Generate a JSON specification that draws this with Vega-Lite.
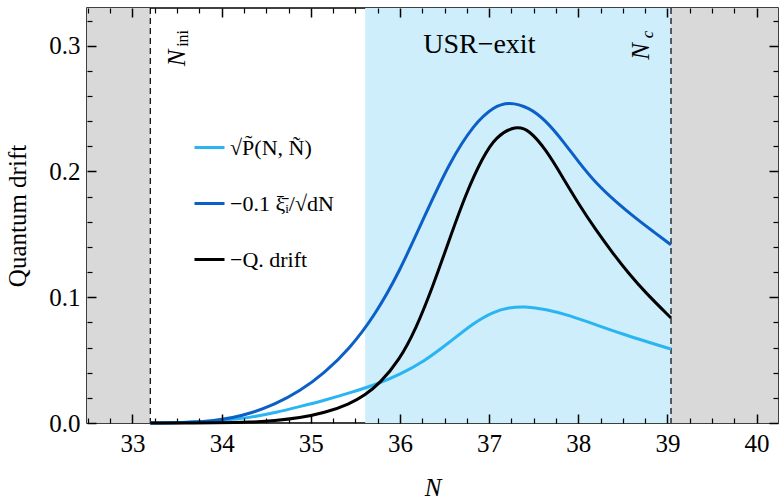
{
  "$schema": "https://vega.github.io/schema/vega-lite/v6.json",
  "width": 691,
  "height": 415,
  "autosize": {"type": "none"},
  "padding": {"left": 87, "top": 8, "right": 1, "bottom": 76},
  "config": {
    "view": {"stroke": "black", "strokeWidth": 1.5},
    "font": "Liberation Serif"
  },
  "datasets": {
    "gray": [{"a": 32.49, "b": 33.2}, {"a": 39.04, "b": 40.24}],
    "usr": [{"a": 35.61, "b": 39.04}],
    "marks": [{"N": 33.2}, {"N": 39.04}],
    "curves": [
      {"s": "√P̃(N, Ñ)", "N": 33.2, "v": 0},
      {"s": "√P̃(N, Ñ)", "N": 33.6, "v": 0.0004},
      {"s": "√P̃(N, Ñ)", "N": 34.0, "v": 0.0018},
      {"s": "√P̃(N, Ñ)", "N": 34.314, "v": 0.0042},
      {"s": "√P̃(N, Ñ)", "N": 34.6, "v": 0.0082},
      {"s": "√P̃(N, Ñ)", "N": 34.873, "v": 0.0130},
      {"s": "√P̃(N, Ñ)", "N": 35.15, "v": 0.0180},
      {"s": "√P̃(N, Ñ)", "N": 35.433, "v": 0.0238},
      {"s": "√P̃(N, Ñ)", "N": 35.77, "v": 0.0316},
      {"s": "√P̃(N, Ñ)", "N": 35.993, "v": 0.0384},
      {"s": "√P̃(N, Ñ)", "N": 36.273, "v": 0.0490},
      {"s": "√P̃(N, Ñ)", "N": 36.553, "v": 0.0640},
      {"s": "√P̃(N, Ñ)", "N": 36.833, "v": 0.0800},
      {"s": "√P̃(N, Ñ)", "N": 37.05, "v": 0.0885},
      {"s": "√P̃(N, Ñ)", "N": 37.22, "v": 0.0918},
      {"s": "√P̃(N, Ñ)", "N": 37.4, "v": 0.0928},
      {"s": "√P̃(N, Ñ)", "N": 37.636, "v": 0.0905},
      {"s": "√P̃(N, Ñ)", "N": 37.9, "v": 0.0856},
      {"s": "√P̃(N, Ñ)", "N": 38.2, "v": 0.0780},
      {"s": "√P̃(N, Ñ)", "N": 38.5, "v": 0.0706},
      {"s": "√P̃(N, Ñ)", "N": 38.8, "v": 0.0640},
      {"s": "√P̃(N, Ñ)", "N": 39.04, "v": 0.0588},
      {"s": "−0.1 ξ̄ᵢ/√dN", "N": 33.2, "v": 0},
      {"s": "−0.1 ξ̄ᵢ/√dN", "N": 33.6, "v": 0.0003},
      {"s": "−0.1 ξ̄ᵢ/√dN", "N": 33.9, "v": 0.0015},
      {"s": "−0.1 ξ̄ᵢ/√dN", "N": 34.127, "v": 0.0042},
      {"s": "−0.1 ξ̄ᵢ/√dN", "N": 34.314, "v": 0.0075},
      {"s": "−0.1 ξ̄ᵢ/√dN", "N": 34.594, "v": 0.0146},
      {"s": "−0.1 ξ̄ᵢ/√dN", "N": 34.873, "v": 0.0251},
      {"s": "−0.1 ξ̄ᵢ/√dN", "N": 35.153, "v": 0.0397},
      {"s": "−0.1 ξ̄ᵢ/√dN", "N": 35.433, "v": 0.0590},
      {"s": "−0.1 ξ̄ᵢ/√dN", "N": 35.713, "v": 0.0850},
      {"s": "−0.1 ξ̄ᵢ/√dN", "N": 35.993, "v": 0.1200},
      {"s": "−0.1 ξ̄ᵢ/√dN", "N": 36.273, "v": 0.1640},
      {"s": "−0.1 ξ̄ᵢ/√dN", "N": 36.553, "v": 0.2070},
      {"s": "−0.1 ξ̄ᵢ/√dN", "N": 36.833, "v": 0.2380},
      {"s": "−0.1 ξ̄ᵢ/√dN", "N": 37.05, "v": 0.2515},
      {"s": "−0.1 ξ̄ᵢ/√dN", "N": 37.22, "v": 0.2556},
      {"s": "−0.1 ξ̄ᵢ/√dN", "N": 37.45, "v": 0.2510},
      {"s": "−0.1 ξ̄ᵢ/√dN", "N": 37.636, "v": 0.2405},
      {"s": "−0.1 ξ̄ᵢ/√dN", "N": 37.82, "v": 0.2250},
      {"s": "−0.1 ξ̄ᵢ/√dN", "N": 38.009, "v": 0.2070},
      {"s": "−0.1 ξ̄ᵢ/√dN", "N": 38.2, "v": 0.1905},
      {"s": "−0.1 ξ̄ᵢ/√dN", "N": 38.42, "v": 0.1760},
      {"s": "−0.1 ξ̄ᵢ/√dN", "N": 38.64, "v": 0.1630},
      {"s": "−0.1 ξ̄ᵢ/√dN", "N": 38.83, "v": 0.1528},
      {"s": "−0.1 ξ̄ᵢ/√dN", "N": 39.04, "v": 0.1417},
      {"s": "−Q. drift", "N": 33.2, "v": 0},
      {"s": "−Q. drift", "N": 34.0, "v": 0.0001},
      {"s": "−Q. drift", "N": 34.314, "v": 0.0006},
      {"s": "−Q. drift", "N": 34.6, "v": 0.0018},
      {"s": "−Q. drift", "N": 34.873, "v": 0.0040},
      {"s": "−Q. drift", "N": 35.153, "v": 0.0080},
      {"s": "−Q. drift", "N": 35.433, "v": 0.0150},
      {"s": "−Q. drift", "N": 35.613, "v": 0.0225},
      {"s": "−Q. drift", "N": 35.77, "v": 0.0312},
      {"s": "−Q. drift", "N": 35.993, "v": 0.0500},
      {"s": "−Q. drift", "N": 36.18, "v": 0.0750},
      {"s": "−Q. drift", "N": 36.366, "v": 0.1080},
      {"s": "−Q. drift", "N": 36.553, "v": 0.1457},
      {"s": "−Q. drift", "N": 36.74, "v": 0.1825},
      {"s": "−Q. drift", "N": 36.926, "v": 0.2110},
      {"s": "−Q. drift", "N": 37.076, "v": 0.2280},
      {"s": "−Q. drift", "N": 37.30, "v": 0.2365},
      {"s": "−Q. drift", "N": 37.45, "v": 0.2330},
      {"s": "−Q. drift", "N": 37.636, "v": 0.2175},
      {"s": "−Q. drift", "N": 37.82, "v": 0.1960},
      {"s": "−Q. drift", "N": 38.009, "v": 0.1735},
      {"s": "−Q. drift", "N": 38.196, "v": 0.1537},
      {"s": "−Q. drift", "N": 38.382, "v": 0.1355},
      {"s": "−Q. drift", "N": 38.569, "v": 0.1185},
      {"s": "−Q. drift", "N": 38.756, "v": 0.1035},
      {"s": "−Q. drift", "N": 39.04, "v": 0.0835}
    ],
    "bigN": [{"N": 33.497, "v": 0.2836, "t": "N"}, {"N": 38.703, "v": 0.2888, "t": "N"}],
    "ini": [{"N": 33.563, "v": 0.2991, "t": "ini"}],
    "c": [{"N": 38.78, "v": 0.306, "t": "c"}],
    "label": [{"N": 36.89, "v": 0.3007, "t": "USR−exit"}]
  },
  "resolve": {"axis": {"x": "independent", "y": "independent"}},
  "layer": [
    {
      "data": {"name": "gray"},
      "mark": {"type": "rect", "color": "#d9d9d9"},
      "encoding": {
        "x": {"field": "a", "type": "quantitative", "scale": {"domain": [32.49, 40.24], "nice": false, "zero": false},
          "axis": {"orient": "bottom", "zindex": 1, "offset": -9, "domain": false, "grid": false, "ticks": true, "values": [33, 34, 35, 36, 37, 38, 39, 40], "tickSize": 9, "tickColor": "black", "tickWidth": 1.5, "labelColor": "black", "labelFont": "Liberation Serif", "labelFontSize": 25, "labelPadding": 8, "labelFlush": false, "labelOverlap": false, "title": "N", "titleColor": "black", "titleFont": "Liberation Serif", "titleFontStyle": "italic", "titleFontWeight": "normal", "titleFontSize": 25, "titlePadding": 19}},
        "x2": {"field": "b"}
      }
    },
    {
      "data": {"name": "usr"},
      "mark": {"type": "rect", "color": "#cdeefa"},
      "encoding": {
        "x": {"field": "a", "type": "quantitative",
          "axis": {"orient": "bottom", "zindex": 1, "offset": -5, "domain": false, "grid": false, "ticks": true, "values": [32.5, 32.75, 33.25, 33.5, 33.75, 34.25, 34.5, 34.75, 35.25, 35.5, 35.75, 36.25, 36.5, 36.75, 37.25, 37.5, 37.75, 38.25, 38.5, 38.75, 39.25, 39.5, 39.75], "tickSize": 5, "tickColor": "black", "tickWidth": 1.2, "labels": false, "title": null}},
        "x2": {"field": "b"}
      }
    },
    {
      "data": {"name": "marks"},
      "mark": {"type": "rule", "color": "black", "strokeWidth": 1.2, "strokeDash": [6, 4]},
      "encoding": {
        "x": {"field": "N", "type": "quantitative",
          "axis": {"orient": "top", "zindex": 1, "offset": -9, "domain": false, "grid": false, "ticks": true, "values": [33, 34, 35, 36, 37, 38, 39, 40], "tickSize": 9, "tickColor": "black", "tickWidth": 1.5, "labels": false, "title": null}}
      }
    },
    {
      "data": {"name": "curves"},
      "mark": {"type": "line", "strokeWidth": 3, "interpolate": "basis"},
      "encoding": {
        "x": {"field": "N", "type": "quantitative",
          "axis": {"orient": "top", "zindex": 1, "offset": -5, "domain": false, "grid": false, "ticks": true, "values": [32.5, 32.75, 33.25, 33.5, 33.75, 34.25, 34.5, 34.75, 35.25, 35.5, 35.75, 36.25, 36.5, 36.75, 37.25, 37.5, 37.75, 38.25, 38.5, 38.75, 39.25, 39.5, 39.75], "tickSize": 5, "tickColor": "black", "tickWidth": 1.2, "labels": false, "title": null}},
        "y": {"field": "v", "type": "quantitative", "scale": {"domain": [0, 0.33], "nice": false},
          "axis": {"orient": "left", "zindex": 1, "offset": -9, "domain": false, "grid": false, "ticks": true, "values": [0, 0.1, 0.2, 0.3], "format": ".1f", "tickSize": 9, "tickColor": "black", "tickWidth": 1.5, "labelColor": "black", "labelFont": "Liberation Serif", "labelFontSize": 25, "labelPadding": 7, "labelFlush": false, "labelOverlap": false, "title": "Quantum drift", "titleColor": "black", "titleFont": "Liberation Serif", "titleFontWeight": "normal", "titleFontSize": 25, "titlePadding": 18}},
        "color": {"field": "s", "type": "nominal",
          "scale": {"domain": ["√P̃(N, Ñ)", "−0.1 ξ̄ᵢ/√dN", "−Q. drift"], "range": ["#2ab5f2", "#0b5fc6", "#000000"]},
          "legend": {"orient": "none", "legendX": 106, "legendY": 123, "title": null, "symbolType": "stroke", "symbolSize": 900, "symbolStrokeWidth": 3, "labelFont": "Liberation Serif", "labelFontSize": 22, "labelColor": "black", "rowPadding": 28, "labelOffset": 4, "padding": 0, "labelLimit": 300}}
      }
    },
    {
      "data": {"name": "label"},
      "mark": {"type": "text", "fontSize": 28, "align": "center", "baseline": "middle", "color": "black"},
      "encoding": {
        "x": {"field": "N", "type": "quantitative", "axis": null},
        "y": {"field": "v", "type": "quantitative",
          "axis": {"orient": "left", "zindex": 1, "offset": -5, "domain": false, "grid": false, "ticks": true, "values": [0.02, 0.04, 0.06, 0.08, 0.12, 0.14, 0.16, 0.18, 0.22, 0.24, 0.26, 0.28, 0.32], "tickSize": 5, "tickColor": "black", "tickWidth": 1.2, "labels": false, "title": null}},
        "text": {"field": "t"}
      }
    },
    {
      "data": {"name": "bigN"},
      "mark": {"type": "text", "fontStyle": "italic", "fontSize": 25, "angle": 270, "align": "left", "baseline": "middle", "color": "black"},
      "encoding": {
        "x": {"field": "N", "type": "quantitative", "axis": null},
        "y": {"field": "v", "type": "quantitative",
          "axis": {"orient": "right", "zindex": 1, "offset": -9, "domain": false, "grid": false, "ticks": true, "values": [0, 0.1, 0.2, 0.3], "tickSize": 9, "tickColor": "black", "tickWidth": 1.5, "labels": false, "title": null}},
        "text": {"field": "t"}
      }
    },
    {
      "data": {"name": "ini"},
      "mark": {"type": "text", "fontSize": 16, "angle": 270, "align": "left", "baseline": "middle", "color": "black"},
      "encoding": {
        "x": {"field": "N", "type": "quantitative", "axis": null},
        "y": {"field": "v", "type": "quantitative",
          "axis": {"orient": "right", "zindex": 1, "offset": -5, "domain": false, "grid": false, "ticks": true, "values": [0.02, 0.04, 0.06, 0.08, 0.12, 0.14, 0.16, 0.18, 0.22, 0.24, 0.26, 0.28, 0.32], "tickSize": 5, "tickColor": "black", "tickWidth": 1.2, "labels": false, "title": null}},
        "text": {"field": "t"}
      }
    },
    {
      "data": {"name": "c"},
      "mark": {"type": "text", "fontStyle": "italic", "fontSize": 17, "angle": 270, "align": "left", "baseline": "middle", "color": "black"},
      "encoding": {
        "x": {"field": "N", "type": "quantitative", "axis": null},
        "y": {"field": "v", "type": "quantitative", "axis": null},
        "text": {"field": "t"}
      }
    }
  ]
}
